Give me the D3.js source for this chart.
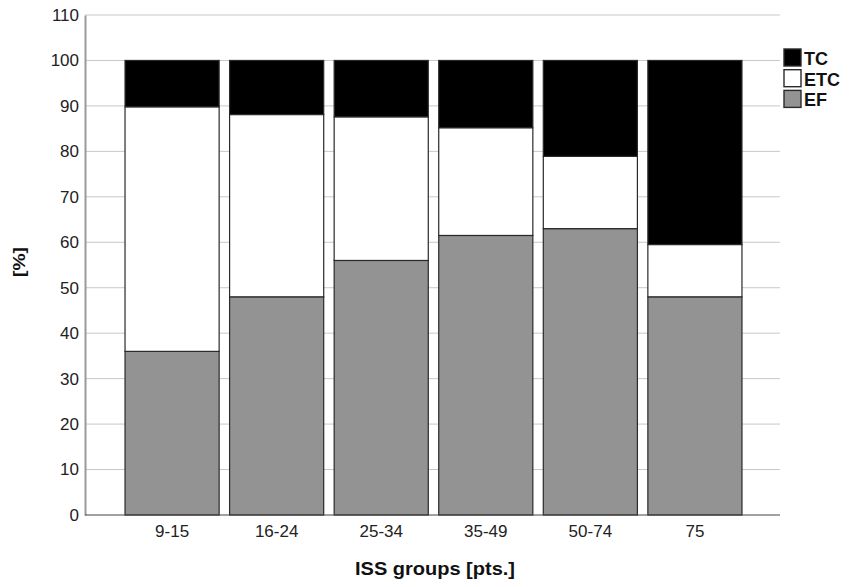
<!DOCTYPE html>
<html>
<head>
<meta charset="utf-8">
<script src="https://cdn.jsdelivr.net/npm/d3@7"></script>
<style>
    body { margin: 0; background: #fff; }
    text { font-family: "Liberation Sans", Arial, sans-serif; }
</style>
</head>
<body>
<svg id="chart" width="858" height="587"></svg>
<script>
var groups = ['9-15', '16-24', '25-34', '35-49', '50-74', '75'];
var seriesNames = ['EF', 'ETC', 'TC'];
var EF = [36.0, 48.0, 56.0, 61.5, 63.0, 48.0];
var ETC = [53.8, 40.1, 31.6, 23.7, 15.9, 11.5];
var TC = [10.2, 11.9, 12.4, 14.8, 21.1, 40.5];
var yTicks = [0, 10, 20, 30, 40, 50, 60, 70, 80, 90, 100, 110];
var fills = { EF: '#939393', ETC: '#ffffff', TC: '#000000' };
var legendOrder = ['TC', 'ETC', 'EF'];

function draw() {
    var svg = d3.select('#chart');

    // note: 'top' clashes with window.top, so plot edges get their own names
    var plotLeft = 85, plotRight = 780, plotTop = 15, plotBottom = 515;

    var y = d3.scaleLinear().domain([0, 110]).range([plotBottom, plotTop]);
    var x = d3.scaleBand().domain(groups)
        .range([119.8, 747.2])
        .paddingInner(0.1)
        .paddingOuter(0.05);

    // grid lines
    svg.append('g').selectAll('line.grid')
        .data(yTicks.filter(function (d) { return d > 0; }))
        .enter().append('line')
        .attr('class', 'grid')
        .attr('x1', plotLeft).attr('x2', plotRight)
        .attr('y1', function (d) { return y(d); })
        .attr('y2', function (d) { return y(d); })
        .attr('stroke', '#c8c8c8')
        .attr('stroke-width', 1);

    // stacked bars
    var table = groups.map(function (g, i) {
        return { group: g, EF: EF[i], ETC: ETC[i], TC: TC[i] };
    });
    var stacked = d3.stack().keys(seriesNames)(table);

    svg.append('g').selectAll('g.series')
        .data(stacked)
        .enter().append('g')
        .attr('class', 'series')
        .attr('fill', function (s) { return fills[s.key]; })
        .selectAll('rect')
        .data(function (s) { return s; })
        .enter().append('rect')
        .attr('x', function (d) { return x(d.data.group); })
        .attr('width', x.bandwidth())
        .attr('y', function (d) { return y(d[1]); })
        .attr('height', function (d) { return y(d[0]) - y(d[1]); })
        .attr('stroke', '#2a2a2a')
        .attr('stroke-width', 1.2);

    // y axis
    var yAxis = d3.axisLeft(y).tickValues(yTicks).tickSize(0).tickPadding(6);
    var gy = svg.append('g').attr('transform', 'translate(' + plotLeft + ',0)').call(yAxis);
    gy.select('.domain').attr('stroke', '#9a9a9a').attr('stroke-width', 2);
    gy.selectAll('text').attr('font-size', 17).attr('fill', '#222')
        .style('font-family', '"Liberation Sans", Arial, sans-serif');

    // x axis
    var xAxis = d3.axisBottom(x).tickSize(0).tickPadding(10);
    var gx = svg.append('g').attr('transform', 'translate(0,' + plotBottom + ')').call(xAxis);
    gx.select('.domain').remove();
    gx.selectAll('text').attr('font-size', 17).attr('fill', '#222')
        .style('font-family', '"Liberation Sans", Arial, sans-serif');
    svg.append('line')
        .attr('x1', plotLeft).attr('x2', plotRight)
        .attr('y1', plotBottom).attr('y2', plotBottom)
        .attr('stroke', '#444').attr('stroke-width', 1.2);

    // axis titles
    svg.append('text')
        .attr('x', 435).attr('y', 575)
        .attr('text-anchor', 'middle')
        .attr('font-size', 18).attr('font-weight', 'bold').attr('fill', '#111')
        .attr('textLength', 160).attr('lengthAdjust', 'spacingAndGlyphs')
        .text('ISS groups [pts.]');

    svg.append('text')
        .attr('transform', 'translate(25,262) rotate(-90)')
        .attr('text-anchor', 'middle')
        .attr('font-size', 17).attr('font-weight', 'bold').attr('fill', '#111')
        .attr('textLength', 30).attr('lengthAdjust', 'spacingAndGlyphs')
        .text('[%]');

    // legend
    var legend = svg.append('g').attr('transform', 'translate(784,49)');
    var items = legend.selectAll('g').data(legendOrder).enter().append('g')
        .attr('transform', function (d, i) { return 'translate(0,' + (i * 20.7) + ')'; });
    items.append('rect')
        .attr('width', 17).attr('height', 17)
        .attr('fill', function (d) { return fills[d]; })
        .attr('stroke', '#2a2a2a').attr('stroke-width', 1.4);
    items.append('text')
        .attr('x', 20).attr('y', 16)
        .attr('font-size', 18).attr('font-weight', 'bold').attr('fill', '#111')
        .text(function (d) { return d; });
}

draw();
</script>
</body>
</html>
